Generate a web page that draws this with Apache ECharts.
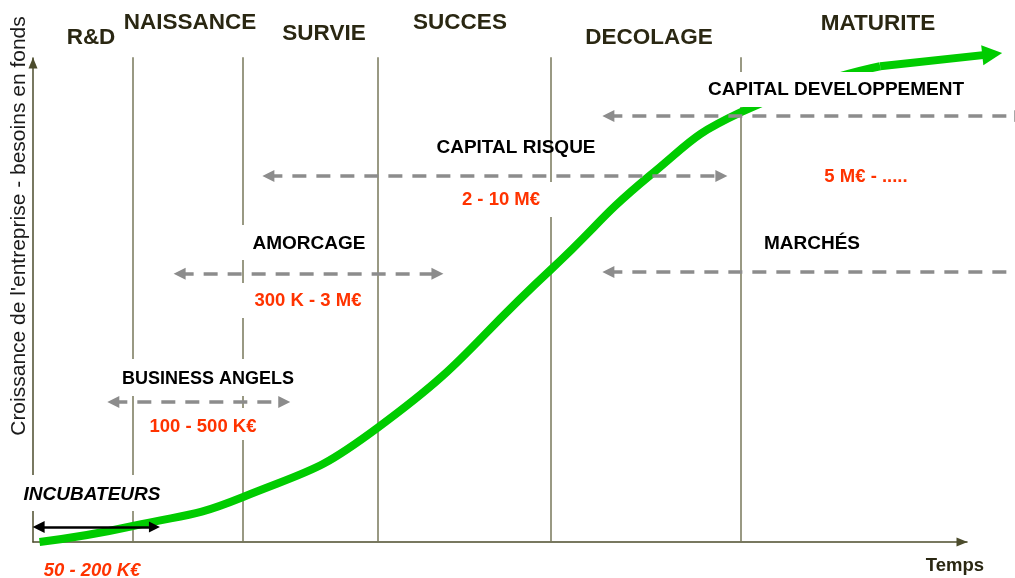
<!DOCTYPE html>
<html>
<head>
<meta charset="utf-8">
<title>Cycle de financement</title>
<script src="https://cdn.jsdelivr.net/npm/echarts@6/dist/echarts.min.js"></script>
<style>
  html, body { margin: 0; padding: 0; background: #fff; }
  #chart { width: 1015px; height: 578px; }
</style>
</head>
<body>
<div id="chart"></div>
<script>
// phases de vie de l'entreprise
var phases = ['R&D', 'NAISSANCE', 'SURVIE', 'SUCCES', 'DECOLAGE', 'MATURITE']
var phaseLimits = [10.7, 22.5, 36.9, 55.4, 75.8] // axe du temps 0 - 100

// courbe de croissance (temps, besoins)
var growthX = [0.7, 10.7, 22.5, 36.9, 55.4, 66.1, 75.8, 90.7]
var growthY = [0, 3.3, 9.3, 23.6, 56.2, 75.8, 88.8, 98.3]
var growthTip = [102.7, 100.8]

// financeurs : debut / fin sur l'axe du temps, niveau sur l'axe vertical
var funders = ['INCUBATEURS', 'BUSINESS ANGELS', 'AMORCAGE', 'CAPITAL RISQUE', 'CAPITAL DEVELOPPEMENT', 'MARCHÉS']
var amounts = ['50 - 200 K€', '100 - 500 K€', '300 K - 3 M€', '2 - 10 M€', '5 M€ - .....', '']
var fundFrom = [0.6, 8.6, 15.7, 25.2, 61.6, 61.6]
var fundTo = [13.0, 26.9, 43.3, 73.7, 105.7, 107]
var fundLevel = [3.1, 28.9, 55.4, 75.6, 88.0, 55.8]

var axisTitles = ['Temps', 'Croissance de l\'entreprise - besoins en fonds']

var chart = echarts.init(document.getElementById('chart'))

var FONT = '"Liberation Sans", Arial, sans-serif'
var titlePos = [[91, 38], [190, 23], [324, 34], [460, 23], [649, 38], [878, 24]]
var funderPos = [[92, 495], [208, 379], [309, 244], [516, 148], [836, 90], [812, 244]]
var amountPos = [[92, 571], [203, 427], [308, 301], [501, 200], [866, 177]]
// caches blancs derriere certains textes (coupent les traits verticaux)
var masks = [[18, 475, 148, 36], [115, 359, 186, 37], [145, 408, 115, 32], [240, 225, 130, 35],
  [240, 283, 126, 35], [458, 182, 98, 35], [700, 72, 272, 35]]

var graphics = []
masks.forEach(function (m) {
  graphics.push({ type: 'rect', z: 5, silent: true, shape: { x: m[0], y: m[1], width: m[2], height: m[3] }, style: { fill: '#fff' } })
})
phases.forEach(function (p, i) {
  graphics.push({
    type: 'text', z: 6, x: titlePos[i][0], y: titlePos[i][1],
    style: { text: p, align: 'center', verticalAlign: 'middle', font: 'bold 22.5px ' + FONT, fill: '#2a2712' }
  })
})
funders.forEach(function (f, i) {
  var size = i === 1 ? 18 : 19
  graphics.push({
    type: 'text', z: 6, x: funderPos[i][0], y: funderPos[i][1],
    style: { text: f, align: 'center', verticalAlign: 'middle', font: (i === 0 ? 'italic ' : '') + 'bold ' + size + 'px ' + FONT, fill: '#000' }
  })
})
amounts.forEach(function (a, i) {
  if (!a) return
  graphics.push({
    type: 'text', z: 6, x: amountPos[i][0], y: amountPos[i][1],
    style: { text: a, align: 'center', verticalAlign: 'middle', font: (i === 0 ? 'italic ' : '') + 'bold 18.5px ' + FONT, fill: '#ff3300' }
  })
})
graphics.push({
  type: 'text', z: 6, x: 955, y: 566,
  style: { text: axisTitles[0], align: 'center', verticalAlign: 'middle', font: 'bold 18.5px ' + FONT, fill: '#2a2712' }
})
graphics.push({
  type: 'text', z: 6, x: 19, y: 226, rotation: Math.PI / 2,
  style: { text: axisTitles[1], align: 'center', verticalAlign: 'middle', font: '21px ' + FONT, fill: '#1a1a1a' }
})

var axisCommon = {
  type: 'value', min: 0, max: 100,
  axisLine: { show: true, symbol: ['none', 'triangle'], symbolSize: [9, 11], symbolOffset: [0, -5], lineStyle: { color: '#4c4c2c', width: 1.5 } },
  axisTick: { show: false }, axisLabel: { show: false }, splitLine: { show: false }
}

var grayArrows = [], blackArrows = []
funders.forEach(function (f, i) {
  var item = { coords: [[fundFrom[i], fundLevel[i]], [fundTo[i], fundLevel[i]]] }
  if (i === 0) blackArrows.push(item)
  else grayArrows.push(item)
})

chart.setOption({
  animation: false,
  grid: { left: 33, top: 58, width: 934, height: 484 },
  xAxis: axisCommon,
  yAxis: axisCommon,
  graphic: graphics,
  series: [{
    // frontieres entre phases
    type: 'lines', coordinateSystem: 'cartesian2d', z: 1, silent: true,
    lineStyle: { color: '#77775a', width: 1.5, opacity: 1 },
    data: phaseLimits.map(function (x) { return { coords: [[x, 0], [x, 100.2]] } })
  }, {
    type: 'line', z: 3, silent: true, smooth: 0.5, showSymbol: false, clip: false,
    lineStyle: { color: '#00cc00', width: 8 },
    data: growthX.map(function (x, i) { return [x, growthY[i]] })
  }, {
    type: 'lines', coordinateSystem: 'cartesian2d', z: 3, silent: true, clip: false,
    symbol: ['none', 'triangle'], symbolSize: [22, 20],
    lineStyle: { color: '#00cc00', width: 8, opacity: 1 },
    data: [{ coords: [[growthX[growthX.length - 1], growthY[growthY.length - 1]], growthTip] }]
  }, {
    type: 'lines', coordinateSystem: 'cartesian2d', z: 10, silent: true, clip: false,
    symbol: ['triangle', 'triangle'], symbolSize: [12, 12],
    lineStyle: { color: '#8c8c8c', width: 3.5, type: [14, 10], opacity: 1 },
    data: grayArrows
  }, {
    type: 'lines', coordinateSystem: 'cartesian2d', z: 10, silent: true, clip: false,
    symbol: ['triangle', 'triangle'], symbolSize: [12, 11],
    lineStyle: { color: '#000', width: 2.5, opacity: 1 },
    data: blackArrows
  }]
})
</script>
</body>
</html>
